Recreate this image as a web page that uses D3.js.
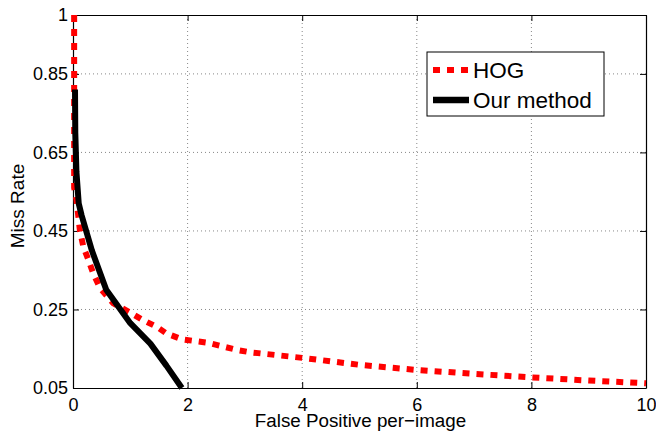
<!DOCTYPE html>
<html><head><meta charset="utf-8">
<script src="https://cdn.jsdelivr.net/npm/d3@7"></script>
<style>body{margin:0;background:#fff;} text{font-family:"Liberation Sans",Arial,sans-serif;}</style>
</head><body>
<svg id="c" width="656" height="432"></svg>
<script>
const hogX = [0.02,0.02,0.06,0.12,0.18,0.27,0.35,0.47,0.7,1.0,1.22,1.46,1.63,1.9,2.36,2.86,3.09,4.05,5.0,6.0,7.0,8.0,9.0,10];
const hogY = [1.0,0.56,0.53,0.452,0.41,0.376,0.343,0.305,0.266,0.242,0.223,0.206,0.189,0.174,0.165,0.147,0.141,0.126,0.109,0.096,0.086,0.077,0.069,0.062];
const oursX = [0.035,0.04,0.06,0.1,0.15,0.33,0.58,1.0,1.35,1.63,1.9];
const oursY = [0.81,0.7,0.6,0.52,0.49,0.40,0.30,0.215,0.163,0.107,0.05];
const xTicks = [0,2,4,6,8,10];
const yTicks = [0.05,0.25,0.45,0.65,0.85,1];
const yTickLabels = ["0.05","0.25","0.45","0.65","0.85","1"];
const seriesNames = ["HOG","Our method"];

const L=73,T=15,R=646,B=388;
const svg=d3.select("#c");
const x=d3.scaleLinear().domain([0,10]).range([L,R]);
const y=d3.scaleLinear().domain([0.05,1]).range([B,T]);

// grid
const g=svg.append("g");
g.selectAll("line.gx").data(xTicks.slice(1,-1)).join("line")
 .attr("x1",d=>x(d)).attr("x2",d=>x(d)).attr("y1",T).attr("y2",B)
 .attr("stroke","#888").attr("stroke-width",1).attr("stroke-dasharray","1,3");
g.selectAll("line.gy").data(yTicks.slice(1,-1)).join("line")
 .attr("y1",d=>y(d)).attr("y2",d=>y(d)).attr("x1",L).attr("x2",R)
 .attr("stroke","#888").attr("stroke-width",1).attr("stroke-dasharray","1,3");

// axes
const fmt=(d)=>yTickLabels[yTicks.indexOf(d)];
const ax=svg.append("g").attr("transform",`translate(0,${B})`)
 .call(d3.axisBottom(x).tickValues(xTicks).tickSizeInner(-6).tickSizeOuter(0).tickPadding(12).tickFormat(d3.format("d")));
const ay=svg.append("g").attr("transform",`translate(${L},0)`)
 .call(d3.axisLeft(y).tickValues(yTicks).tickSizeInner(-6).tickSizeOuter(0).tickPadding(5).tickFormat(fmt));
const at=svg.append("g").attr("transform",`translate(0,${T})`)
 .call(d3.axisTop(x).tickValues(xTicks).tickSizeInner(-6).tickSizeOuter(0).tickFormat(""));
const ar=svg.append("g").attr("transform",`translate(${R},0)`)
 .call(d3.axisRight(y).tickValues(yTicks).tickSizeInner(-6).tickSizeOuter(0).tickFormat(""));
[ax,ay,at,ar].forEach(a=>{
  a.select(".domain").attr("stroke","#000").attr("stroke-width",1.2);
  a.selectAll(".tick line").attr("stroke","#000");
  a.selectAll("text").attr("font-size",18).attr("fill","#000").attr("font-family","Liberation Sans, Arial, sans-serif");
});
ax.selectAll("text").attr("dy","0.71em").attr("y",10);

// lines
const line=d3.line().x(d=>x(d[0])).y(d=>y(d[1]));
const hog=hogX.map((v,i)=>[v,hogY[i]]);
const ours=oursX.map((v,i)=>[v,oursY[i]]);
svg.append("path").datum(hog).attr("d",line).attr("fill","none")
 .attr("stroke","#ff0000").attr("stroke-width",6).attr("stroke-dasharray","7,7");
svg.append("path").datum(ours).attr("d",line).attr("fill","none")
 .attr("stroke","#000").attr("stroke-width",6).attr("stroke-linejoin","round");

// legend
const lg=svg.append("g");
lg.append("rect").attr("x",427).attr("y",52).attr("width",177).attr("height",64)
 .attr("fill","#fff").attr("stroke","#000").attr("stroke-width",1);
lg.append("line").attr("x1",433).attr("x2",469).attr("y1",70).attr("y2",70)
 .attr("stroke","#ff0000").attr("stroke-width",6).attr("stroke-dasharray","7,7");
lg.append("line").attr("x1",433).attr("x2",469).attr("y1",100).attr("y2",100)
 .attr("stroke","#000").attr("stroke-width",6.5);
lg.append("text").attr("x",473).attr("y",78).attr("font-size",22.5).text(seriesNames[0]);
lg.append("text").attr("x",473).attr("y",108).attr("font-size",22.5).text(seriesNames[1]);

// titles
svg.append("text").attr("x",(L+R)/2+1).attr("y",427).attr("text-anchor","middle")
 .attr("font-size",18.8).text("False Positive per\u2212image");
svg.append("text").attr("transform","translate(24,206) rotate(-90)").attr("text-anchor","middle")
 .attr("font-size",19).text("Miss Rate");
</script>
</body></html>
